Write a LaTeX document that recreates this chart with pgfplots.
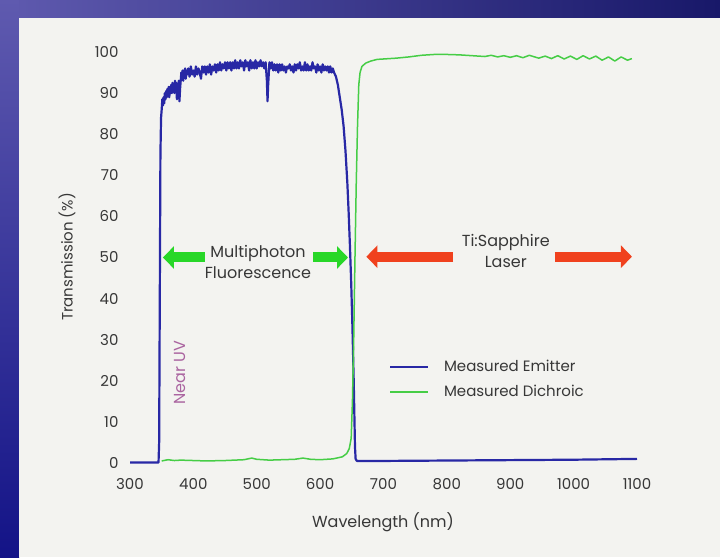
\documentclass[border=0pt]{standalone}
\usepackage{fontspec}
\setmainfont{Poppins}
\usepackage{pgfplots}
\pgfplotsset{compat=1.18}
\usetikzlibrary{arrows.meta}
\definecolor{navy}{RGB}{24,24,105}
\definecolor{navylight}{RGB}{95,90,175}
\definecolor{panel}{RGB}{243,243,240}
\definecolor{txt}{RGB}{55,55,55}
\definecolor{emit}{RGB}{40,40,165}
\definecolor{dich}{RGB}{70,205,70}
\definecolor{garrow}{RGB}{40,215,40}
\definecolor{rarrow}{RGB}{240,65,30}
\definecolor{nearuv}{RGB}{170,100,160}
\begin{document}
\begin{tikzpicture}
\fill[navy] (0pt,0pt) rectangle (720pt,557pt);
\shade[left color=navylight, right color=navy] (0pt,539pt) rectangle (720pt,557pt);
\shade[top color=navylight, bottom color=navy!80!blue] (0pt,0pt) rectangle (19pt,557pt);
\fill[panel] (19pt,0pt) rectangle (720pt,539pt);
\begin{axis}[
  at={(130pt,94pt)}, anchor=south west,
  scale only axis, width=507pt, height=411pt,
  xmin=300, xmax=1100, ymin=0, ymax=100,
  axis line style={draw=none}, major tick length=0pt, tick style={draw=none},
  xtick={300,400,...,1100}, ytick={0,10,...,100},
  /pgf/number format/assume math mode=true,
  /pgf/number format/1000 sep={},
  font=\fontsize{15}{17}\selectfont,
  every tick label/.append style={text=txt},
  xticklabel style={yshift=-12pt},
  yticklabel style={xshift=-8pt},
  clip=false,
  legend style={at={(axis cs:704,26)}, anchor=north west, draw=none, fill=none,
    font=\fontsize{15}{17}\selectfont, text=txt, row sep=8pt,
    /tikz/every odd column/.append style={column sep=13pt}},
  legend cell align=left,
  legend image code/.code={\draw[#1, line width=1.8pt] (0pt,0pt) -- (38pt,0pt);},
]
\addplot[emit, line width=2.2pt, line join=round] coordinates {
(300,0.1)(345,0.1)(346,5)(347,40)(348,75)(349,84)(350,86)(351,88.5)(352,87)(353,89)(354,87.5)(355,90)(356,88.5)(357,90.5)(358,89)(359,91)(360,89.5)(361,91.5)(362,89)(363,91.5)(364,90)(365,92)(366,90)(367,92.5)(368,90.5)(369,92)(370,90)(371,93)(372,91)(373,92.5)(374,88.5)(375,92)(376,91)(377,93)(378,88)(379,91)(380,93)(381,95)(382,93.5)(383,95.5)(384,93)(385,95.5)(386,94)(387,96)(388,93.5)(389,95.5)(390,94.5)(392,96)(394,94)(396,96.5)(398,94.5)(400,95.5)(402,94)(404,96.5)(406,94.5)(408,96)(410,95)(412,93.5)(414,96.5)(416,95)(418,96.5)(420,94.5)(422,96.5)(424,95)(426,97)(428,94.5)(430,96.5)(432,95.5)(434,97)(436,95)(438,97)(440,95.5)(442,97.5)(444,95.5)(446,97)(448,96)(450,97.5)(452,95.5)(454,97.5)(456,96)(458,97.5)(460,95.5)(462,97.5)(464,96)(466,98)(468,96)(470,97.5)(472,96)(474,98)(476,96.5)(478,97.5)(480,95.5)(482,98)(484,96.5)(486,97.5)(488,95.5)(490,98)(492,96)(494,97.5)(496,96)(498,98)(500,96)(502,97.5)(504,96.5)(506,98)(508,96.5)(510,97.5)(512,96)(514,97.5)(516,93)(517,88)(518,92)(520,97.5)(522,96)(524,97.5)(526,95.5)(528,97)(530,95.5)(532,97)(534,95)(536,97)(538,95.5)(540,97)(542,95.5)(544,96.5)(546,95)(548,96.5)(550,96)(552,97)(554,95.5)(556,96.5)(558,95)(560,97)(562,95.5)(564,97)(566,96)(568,97.5)(570,95.5)(572,96.5)(574,95.5)(576,97.5)(578,95.5)(580,97)(582,95.5)(584,96.5)(586,95.5)(588,97.5)(590,96)(592,96.5)(594,95)(596,97)(598,95.5)(600,96.5)(602,95)(604,97)(606,95.5)(608,96.5)(610,95.5)(612,96.5)(614,95)(616,96.5)(618,95)(620,96)(622,95)(625,94)(628,92)(631,89)(634,86)(637,82)(640,76)(643,68)(645,61)(647,53)(649,44)(651,33)(653,20)(654,12)(655,4)(656,1)(658,0.5)(700,0.5)(800,0.6)(900,0.7)(1000,0.8)(1100,1.0)
};
\addlegendentry{Measured Emitter}
\addplot[dich, line width=1.5pt, line join=round] coordinates {
(350,0.5)(360,0.8)(370,0.6)(380,0.7)(400,0.6)(420,0.5)(450,0.6)(480,0.8)(492,1.2)(500,0.9)(520,0.7)(540,0.8)(560,0.9)(573,1.2)(585,0.9)(600,0.8)(620,1.0)(635,1.5)(642,2.3)(646,3.5)(649,6)(651,15)(653,30)(655,50)(657,68)(659,82)(661,92)(663,95)(666,96.5)(672,97.3)(680,97.8)(690,98.2)(700,98.3)(720,98.5)(740,98.8)(760,99.2)(780,99.4)(800,99.4)(820,99.3)(840,99.1)(860,98.9)(870,99.2)(880,98.8)(890,99.1)(900,98.7)(910,99.1)(920,98.6)(930,99.2)(945,98.5)(955,99.0)(965,98.4)(975,99.1)(985,98.3)(995,99.0)(1005,98.2)(1015,99.1)(1025,98.3)(1035,99.0)(1045,98.0)(1055,98.8)(1065,97.8)(1075,98.8)(1085,98.0)(1092,98.4)
};
\addlegendentry{Measured Dichroic}
% annotation arrows
\draw[garrow, line width=10pt, -{Triangle[length=11pt,width=22pt]}] (axis cs:418,50) -- (axis cs:352,50);
\draw[garrow, line width=10pt, -{Triangle[length=11pt,width=22pt]}] (axis cs:589,50) -- (axis cs:644,50);
\draw[rarrow, line width=10pt, -{Triangle[length=11pt,width=22pt]}] (axis cs:810,50.2) -- (axis cs:673,50.2);
\draw[rarrow, line width=10pt, -{Triangle[length=11pt,width=22pt]}] (axis cs:970,50.2) -- (axis cs:1092,50.2);
\node[align=center, text=txt, font=\fontsize{16}{21}\selectfont] at (axis cs:502,49) {Multiphoton\\Fluorescence};
\node[align=center, text=txt, font=\fontsize{16}{21}\selectfont] at (axis cs:893,51.5) {Ti:Sapphire\\Laser};
\node[rotate=90, text=nearuv, font=\fontsize{16}{18}\selectfont] at (axis cs:379,22) {Near UV};
\end{axis}
\node[text=txt, font=\fontsize{16}{18}\selectfont] at (383pt,35pt) {Wavelength (nm)};
\node[rotate=90, text=txt, font=\fontsize{15}{17}\selectfont] at (67pt,300pt) {Transmission (\%)};
\end{tikzpicture}
\end{document}
